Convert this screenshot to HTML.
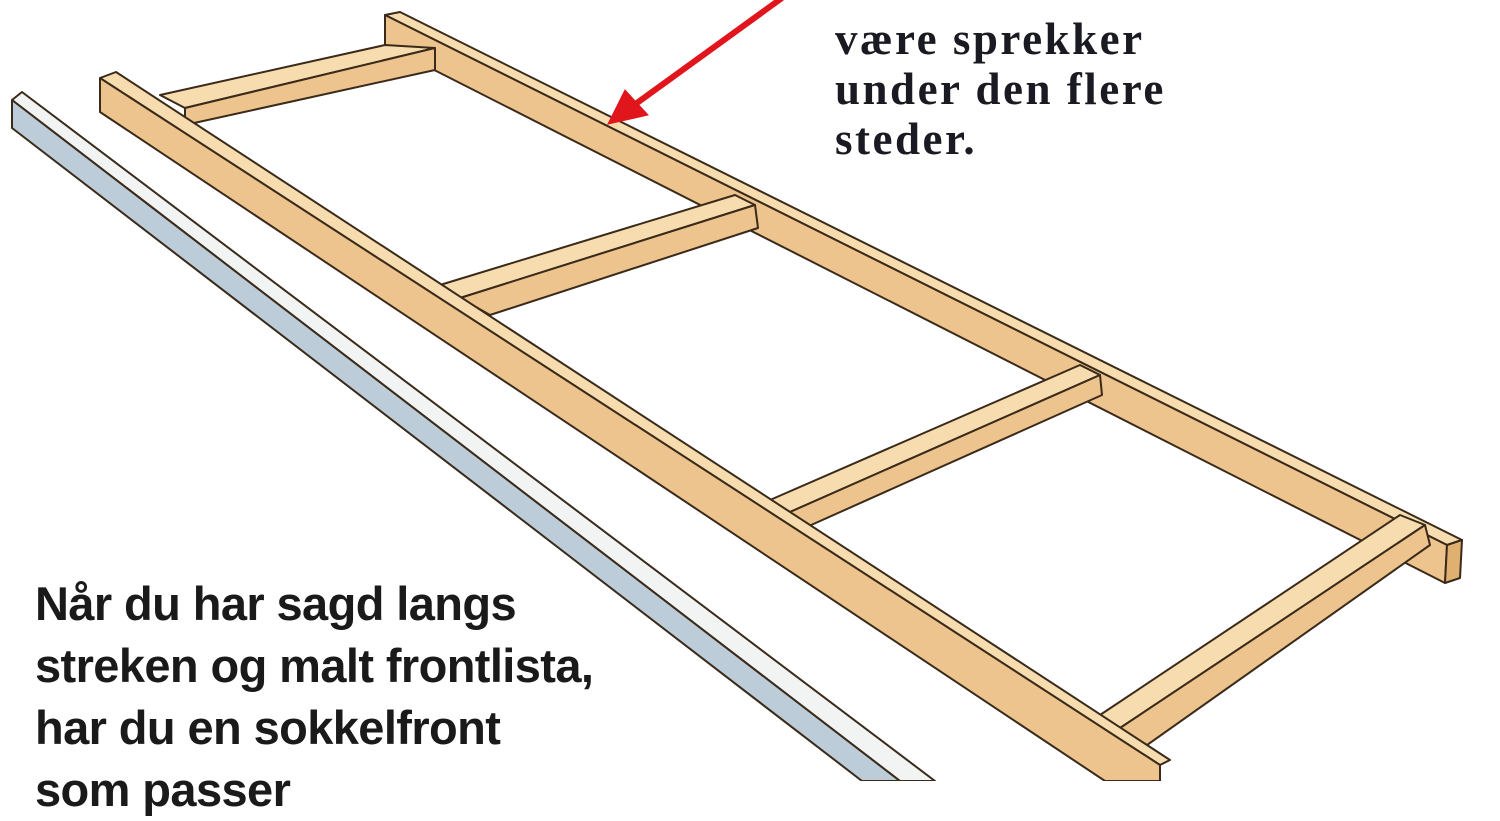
<!DOCTYPE html>
<html><head><meta charset="utf-8"><style>
body{margin:0;width:1500px;height:781px;overflow:hidden;background:#fff}
svg{position:absolute;left:0;top:0}
.r{position:absolute;left:835px;top:14px;font:bold 45px/50px "Liberation Serif",serif;color:#1a1a22;letter-spacing:2.5px}
.l{position:absolute;left:35px;top:573px;font:bold 47px/62px "Liberation Sans",sans-serif;color:#1a1a1a;letter-spacing:-0.6px}
</style></head><body>
<svg width="1500" height="781" viewBox="0 0 1500 781">
<g stroke="#3a2a1a" stroke-width="2" stroke-linejoin="round">
<polygon points="12,100 22,92 935,781 900,781" fill="#f2f4f4"/>
<polygon points="12,100 900,781 862,781 12,128" fill="#bcccd8"/>
<polygon points="385,15 400,12 1462,540 1447,545" fill="#f6dcae"/>
<polygon points="385,15 1447,545 1445,583 385,45" fill="#eec48e"/>
<polygon points="1447,545 1462,540 1460,578 1445,583" fill="#e0b070"/>
<polygon points="160,95 385,45 435,48 185,108" fill="#f6dcae"/>
<polygon points="185,108 435,48 435,70 185,125" fill="#eec48e"/>
<polygon points="440,285 735,195 755,205 460,298" fill="#f6dcae"/>
<polygon points="460,298 755,205 758,228 490,315" fill="#eec48e"/>
<polygon points="770,500 1080,365 1100,375 790,512" fill="#f6dcae"/>
<polygon points="790,512 1100,375 1102,395 800,530" fill="#eec48e"/>
<polygon points="1100,715 1400,515 1425,525 1120,728" fill="#f6dcae"/>
<polygon points="1120,728 1425,525 1430,545 1140,750" fill="#eec48e"/>
<polygon points="100,78 116,72 1170,760 1160,765" fill="#f6dcae"/>
<polygon points="100,78 1160,765 1160,781 1105,781 100,112" fill="#eec48e"/>
</g>
<g stroke="#e0161c" stroke-width="6" fill="#e0161c">
<line x1="782" y1="-2" x2="630" y2="108"/>
<polygon points="608,124 625,90 648,115" stroke-width="1"/>
</g>
</svg>
<div class="r">være sprekker<br>under den flere<br>steder.</div>
<div class="l">Når du har sagd langs<br>streken og malt frontlista,<br>har du en sokkelfront<br>som passer</div>
</body></html>
